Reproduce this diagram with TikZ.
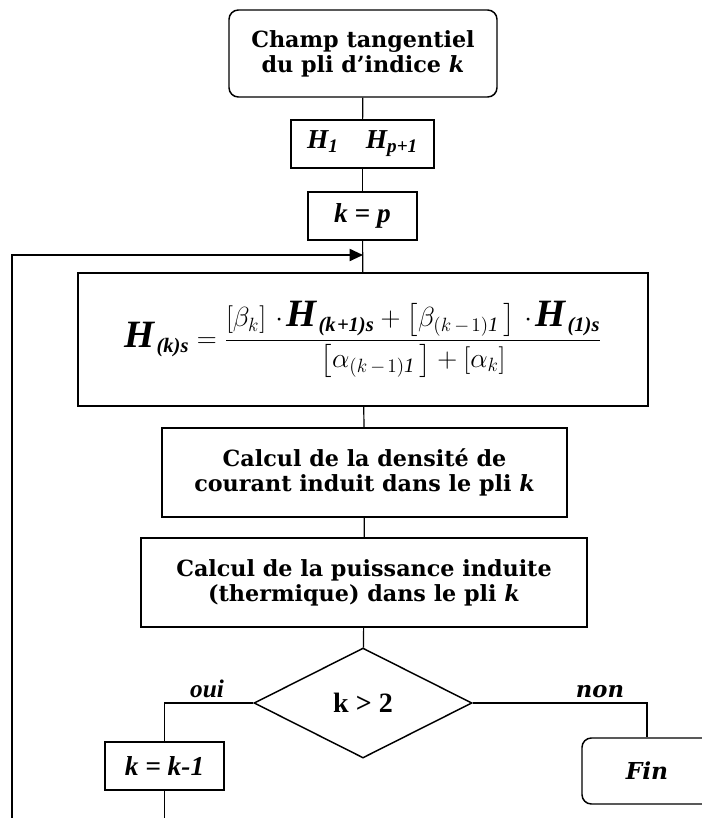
\documentclass[tikz,border=0pt]{standalone}
\usepackage{amsmath}
\usepackage{fontspec}
\setmainfont{Liberation Serif}
\newfontfamily\bookf{DejaVu Serif}
\usetikzlibrary{arrows.meta,shapes.geometric}
\tikzset{box/.style={draw,line width=1.1pt,inner sep=0pt,align=center},
  roundbox/.style={box,rounded corners=7pt},
  sz/.style 2 args={minimum width=#1*0.75pt,minimum height=#2*0.75pt},
  conn/.style={line width=0.9pt},
  loopline/.style={line width=1.4pt,-{Triangle[length=10pt,width=9pt]}},
  bktext/.style={font=\bookf\bfseries\fontsize{16.7}{18.8}\selectfont},
  tmtext/.style={font=\bfseries\itshape\fontsize{20.5}{23}\selectfont},
  labeltext/.style={font=\bfseries\itshape\fontsize{19}{21}\selectfont,inner sep=0pt,anchor=base}}
\newcommand{\Hsub}[1]{\text{\bfseries\itshape\fontsize{29}{29}\selectfont H\/}_{\kern1pt\text{\bfseries\itshape #1}}}
\newcommand{\dotop}{\mskip3mu{\cdot}\mskip2mu}
\newcommand{\kmo}{(k\mskip3mu-\mskip2mu1)\mathit{1}}

\begin{document}
\begin{tikzpicture}[x=0.75pt,y=-0.75pt]
\useasboundingbox (0,0) rectangle (702,818);
% main column
\node[roundbox,bktext,sz={268}{87}] (top) at (363,53.5) {Champ tangentiel\\du pli d’indice \textit{k}};
\node[box,tmtext,sz={143}{48}] (hb) at (362.5,144) {H\textsubscript{1}\quad H\textsubscript{p+1}};
\node[box,tmtext,sz={109}{48}] (kp) at (362.5,216) {k = p};
\node[box,line width=1.6pt,sz={570}{133},font=\fontsize{22}{27}\selectfont] (eq) at (363,339.5)
  {$\displaystyle \Hsub{(k)s}=\frac{\left[\beta_{k}\right]\dotop\Hsub{(k\kern1pt+1)s}+\left[\beta_{\kmo}\,\right]\dotop\Hsub{(1)s}}{\left[\alpha_{\kmo}\,\right]+\left[\alpha_{k}\right]}$};
\node[box,bktext,sz={405}{89}] (dens) at (364.5,472.5) {Calcul de la densité de\\courant induit dans le pli \textit{k}};
\node[box,bktext,sz={446}{89}] (puis) at (364,582.5) {Calcul de la puissance induite\\(thermique) dans le pli \textit{k}};
\node[diamond,box,sz={218}{110},font=\bfseries\fontsize{21}{24}\selectfont] (test) at (363,703) {k > 2};
% branches
\node[box,tmtext,sz={119}{48}] (kk) at (164.5,766) {k = k-1};
\node[roundbox,sz={130}{66},font=\bookf\bfseries\itshape\fontsize{17.5}{21}\selectfont] (fin) at (647,771) {Fin};
\node[labeltext] (oui) at (207,697) {oui};
\node[labeltext,font=\bookf\bfseries\itshape\fontsize{17}{20}\selectfont] (non) at (600,697) {non};
\coordinate (join) at (363,255);
\coordinate (lp) at (12,818);

\foreach \a/\b in {top/hb,hb/kp,kp/eq,eq/dens,dens/puis,puis/test}
  \draw[conn] (\a) -- (\b);
\draw[conn] (test.west) -| (kk.north);
\draw[conn] (test.east) -| (fin.north);
\draw[conn] (kk.south) -- (kk.south |- lp);
\draw[loopline] (lp) |- (join);
\end{tikzpicture}
\end{document}
